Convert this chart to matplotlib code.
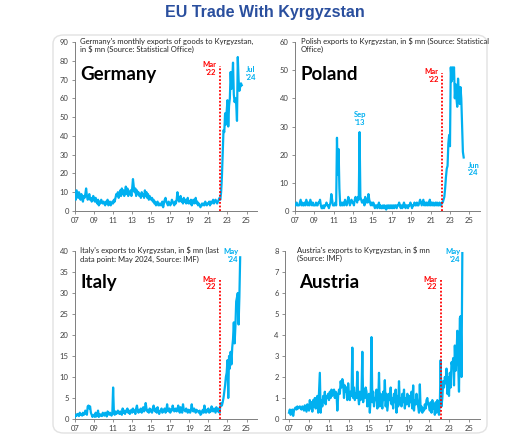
import numpy as np
import matplotlib
matplotlib.use("Agg")
import matplotlib.pyplot as plt
from matplotlib.patches import FancyBboxPatch

# monthly values from Jan 2007, in $ mn
germany = [
    10, 6, 11, 9, 7, 10, 8, 6, 9, 7, 5, 8,
    7, 9, 12, 8, 6, 7, 9, 6, 7, 5, 6, 8,
    6, 5, 7, 5, 4, 6, 3, 5, 4, 6, 5, 4,
    5, 4, 3, 5, 4, 6, 3, 4, 5, 3, 4, 5,
    4, 6, 5, 7, 9, 8, 10, 7, 9, 11, 8, 12,
    9, 11, 8, 10, 13, 9, 12, 8, 10, 9, 11, 8,
    12, 17, 13, 10, 12, 8, 11, 9, 10, 8, 9, 7,
    10, 8, 9, 7, 11, 8, 10, 7, 9, 6, 8, 7,
    6, 7, 5, 6, 4, 5, 3, 4, 5, 3, 4, 3,
    4, 3, 5, 2, 4, 6, 7, 5, 4, 3, 5, 4,
    3, 4, 6, 5, 4, 3, 5, 4, 6, 10, 7, 5,
    6, 8, 5, 6, 4, 7, 5, 6, 4, 5, 7, 4,
    5, 4, 6, 3, 5, 6, 4, 5, 7, 4, 5, 3,
    4, 3, 2, 3, 4, 3, 4, 3, 5, 4, 3, 4,
    4, 5, 3, 5, 4, 5, 6, 4, 5, 6, 5, 4,
    5, 6, 7, 6, 10, 18, 30, 43, 42, 52, 46, 53,
    59, 45, 56, 60, 74, 65, 70, 79, 62, 58, 60, 57,
    48, 82, 70, 64, 66, 68, 67,
]
poland = [
    2, 2, 3, 2, 2, 2, 3, 4, 2, 3, 2, 2,
    3, 2, 4, 3, 2, 3, 2, 4, 3, 2, 3, 2,
    2, 2, 3, 2, 2, 3, 3, 4, 2, 1, 1, 2,
    1, 2, 2, 3, 2, 2, 1, 2, 3, 6, 4, 2,
    2, 2, 3, 2, 26, 13, 22, 8, 2, 2, 3, 2,
    3, 2, 4, 3, 2, 3, 5, 4, 2, 3, 4, 3,
    3, 2, 4, 5, 4, 3, 5, 4, 28, 5, 4, 3,
    3, 4, 2, 5, 3, 4, 3, 6, 4, 3, 2, 3,
    2, 3, 2, 1, 2, 2, 1, 2, 3, 1, 2, 1,
    1, 2, 1, 2, 1, 0.5, 2, 1, 2, 1, 2, 1,
    2, 1, 2, 1, 2, 2, 1, 2, 2, 3, 2, 1,
    2, 1, 2, 3, 2, 1, 2, 2, 1, 2, 2, 3,
    2, 1, 2, 2, 3, 2, 2, 3, 2, 2, 3, 4,
    3, 2, 3, 4, 2, 3, 2, 3, 2, 3, 2, 4,
    2, 3, 2, 3, 2, 2, 3, 2, 3, 2, 2, 3,
    2, 2, 3, 3, 4, 5, 8, 12, 15, 16, 24, 27,
    23, 51, 46, 51, 47, 51, 40, 45, 40, 37, 47, 42,
    38, 44, 40, 30, 21, 19,
]
italy = [
    0.5, 1, 0.8, 1.2, 1, 0.7, 1.5, 1, 1.2, 0.8, 1.5, 1,
    1.2, 2, 1.5, 1, 3, 3.2, 2.5, 3, 1.5, 1, 0.5, 0.8,
    1, 0.5, 1.5, 0.6, 1, 2, 0.5, 1.2, 0.8, 1, 0.7, 1.5,
    1, 0.8, 1.5, 1.2, 0.6, 1.8, 1.5, 1, 1.5, 1.2, 0.8, 1.3,
    7.5, 1.5, 1, 1.8, 1.2, 1.5, 2, 1.5, 1.2, 1.8, 1.5, 1,
    2.5, 1.5, 2, 1.2, 2, 1.8, 2.5, 1.5, 2, 1.2, 1.8, 2.2,
    1.5, 2.5, 1.8, 2, 1.2, 2.5, 3.2, 2, 1.5, 2.2, 1.8, 2.5,
    1.5, 2, 2.8, 1.8, 2.2, 3.8, 2.5, 1.8, 2, 1.5, 2.5, 1.8,
    2.2, 1.5, 2.5, 3.2, 2, 1.8, 2.5, 1.5, 2.8, 2, 1.2, 1.8,
    2, 2.5, 1.5, 1.8, 2.2, 2.5, 1.5, 2, 3.5, 2, 1.8, 2.5,
    1.5, 2.2, 2, 3.2, 2.5, 1.8, 2, 2.5, 1.8, 2.2, 3.2, 2,
    1.5, 2.8, 2, 1.5, 3.5, 2.2, 2, 1.8, 2.5, 2, 1.5, 2.2,
    2, 1.5, 2.2, 3.5, 2, 1.8, 2.5, 2, 1.5, 2.2, 2, 1.8,
    1.5, 2, 1, 1.2, 1.8, 2.2, 1.5, 3.2, 2, 1.5, 2.2, 1.8,
    2.5, 1.5, 2, 1.8, 3, 2.2, 1.8, 2.5, 2, 1.5, 2.8, 2,
    1.8, 2.5, 1.5, 3, 3.8, 3.2, 4, 5, 6.5, 8, 10, 11,
    14, 5, 15, 12, 16, 13, 17, 19, 23, 18, 22, 28,
    29, 30, 22.5, 29, 38.5,
]
austria = [
    0.3, 0.45, 0.2, 0.4, 0.45, 0.15, 0.4, 0.5, 0.55, 0.45, 0.6, 0.5,
    0.55, 0.6, 0.5, 0.45, 0.6, 0.55, 0.4, 0.65, 0.5, 0.35, 0.7, 0.6,
    0.4, 0.9, 0.5, 0.8, 0.35, 0.9, 0.6, 1.0, 0.5, 0.95, 1.1, 0.3,
    1.2, 2.2, 0.3, 0.9, 0.6, 1.1, 0.8, 1.3, 0.7, 1.1, 1.0, 1.2,
    0.9, 1.3, 1.0, 1.4, 1.1, 1.2, 1.4, 1.0, 1.3, 1.2, 0.4, 1.1,
    1.4, 1.2, 1.8, 1.5, 1.9, 1.7, 1.0, 1.6, 1.3, 1.5, 0.9, 1.7,
    1.2, 0.9, 1.3, 1.1, 3.4, 1.0, 1.5, 0.9, 1.2, 1.0, 2.25, 1.1,
    0.7, 1.3, 0.9, 1.2, 3.2, 0.8, 1.4, 1.0, 1.5, 1.3, 0.6, 1.1,
    1.2, 0.3, 1.0, 3.9, 0.8, 1.3, 0.6, 1.0, 0.9, 1.4, 0.5, 0.7,
    2.2, 0.6, 1.2, 0.8, 0.5, 1.3, 0.9, 1.85, 0.6, 1.2, 0.4, 0.8,
    1.2, 0.9, 1.5, 0.7, 1.0, 0.5, 1.2, 0.8, 1.4, 0.3, 1.1, 0.6,
    1.8, 0.7, 1.0, 0.6, 1.2, 0.8, 1.4, 0.5, 1.0, 0.7, 1.2, 0.9,
    0.6, 1.1, 0.8, 1.3, 0.5, 1.6, 0.4, 0.9, 0.7, 1.2, 0.8, 0.6,
    0.3, 1.65, 0.4, 0.6, 0.3, 0.5, 0.4, 0.7, 0.5, 0.9, 1.0, 0.7,
    0.6, 0.4, 0.8, 0.3, 0.9, 0.5, 0.7, 0.2, 0.8, 0.3, 0.9, 0.5,
    0.2, 0.7, 2.8, 0.6, 1.0, 1.8, 1.5, 2.0, 1.7, 2.4, 1.2, 2.0,
    1.1, 2.2, 1.5, 2.7, 2.5, 2.9, 1.6, 3.5, 2.3, 3.0, 4.2, 2.6,
    1.3, 4.8, 4.9, 2.0, 7.9,
]

xtick_years = [2007, 2009, 2011, 2013, 2015, 2017, 2019, 2021, 2023, 2025]
xtick_labels = ["07", "09", "11", "13", "15", "17", "19", "21", "23", "25"]
mar22 = 2022 + 2 / 12

blue = "#00b0f0"
red = "#ff0000"
txtfont = ["Lato", "DejaVu Sans"]

fig = plt.figure(figsize=(5.30, 4.42), dpi=100)
fig.patch.set_facecolor("white")

# rounded panel background
box = FancyBboxPatch((53 / 530, 1 - 433 / 442), 434 / 530, 398 / 442,
                     boxstyle="round,pad=0,rounding_size=0.02",
                     transform=fig.transFigure, facecolor="none",
                     edgecolor="#e2e2e2", linewidth=1.0, zorder=-5)
fig.patches.append(box)

fig.text(0.5, 1 - 13 / 442, "EU Trade With Kyrgyzstan", ha="center", va="center",
         fontsize=11.5, fontweight="bold", color="#2a4f9e", family="Liberation Sans")

panels = [
    # name, data, rect(px: left, top, right, bottom), ymax, ystep, xlim start, subtitle, last label, mar line top
    ("Germany", germany, (75, 42, 257, 211), 90, 10, 2007,
     "Germany's monthly exports of goods to Kyrgyzstan,\nin $ mn (Source: Statistical Office)",
     "Jul\n'24", 77),
    ("Poland", poland, (295, 42, 480, 211), 60, 10, 2007,
     "Polish exports to Kyrgyzstan, in $ mn (Source: Statistical\nOffice)",
     "Jun\n'24", 49),
    ("Italy", italy, (75, 251, 257, 419), 40, 5, 2007,
     "Italy's exports to Kyrgyzstan, in $ mn (last\ndata point: May 2024, Source: IMF)",
     "May\n'24", 33),
    ("Austria", austria, (285, 251, 480, 419), 8, 1, 2006.6,
     "Austria's exports to Kyrgyzstan, in $ mn\n(Source: IMF)",
     "May\n'24", 6.6),
]

for name, vals, (l, t, r, b), ymax, ystep, x0, sub, lastlab, mtop in panels:
    ax = fig.add_axes([l / 530, 1 - b / 442, (r - l) / 530, (b - t) / 442])
    x = 2007 + np.arange(len(vals)) / 12
    ax.plot(x, vals, color=blue, lw=1.6, solid_joinstyle="round", zorder=3)
    ax.vlines(mar22, 0, mtop, colors=red, linestyles=(0, (1, 1)), lw=1.3, zorder=4)
    ax.set_xlim(x0, 2026.1)
    ax.set_ylim(0, ymax)
    ax.set_xticks(xtick_years)
    ax.set_xticklabels(xtick_labels)
    ax.set_yticks(np.arange(0, ymax + ystep / 2, ystep))
    for s in ["top", "right"]:
        ax.spines[s].set_visible(False)
    for s in ["left", "bottom"]:
        ax.spines[s].set_color("#7f7f7f")
        ax.spines[s].set_linewidth(0.7)
    ax.tick_params(labelsize=5.5, colors="#404040", length=2.5, width=0.6, pad=2)
    ax.tick_params(axis="both", color="#7f7f7f")
    ax.patch.set_visible(False)
    for lab in ax.get_xticklabels() + ax.get_yticklabels():
        lab.set_family(txtfont)

    # subtitle and country name
    ax.text(0.03 if name != "Austria" else 0.06, 1.025, sub, transform=ax.transAxes,
            ha="left", va="top", fontsize=5.5, color="#262626", family=txtfont,
            linespacing=1.15)
    ax.text(0.03 if name != "Austria" else 0.07, 0.81, name, transform=ax.transAxes,
            ha="left", va="center", fontsize=13.5, fontweight="bold", color="black",
            family=txtfont)

    # Mar '22 marker label
    ax.text(mar22 - 0.35, mtop * 1.035, "Mar\n'22", ha="right", va="top",
            fontsize=5.5, fontweight="bold", color=red, family=txtfont, linespacing=1.1)

    # latest point label
    xl = x[-1]
    if name == "Germany":
        ax.text(xl + 0.4, 77, lastlab, ha="left", va="top", fontsize=5.5,
                fontweight="bold", color=blue, family=txtfont, linespacing=1.1)
    elif name == "Poland":
        ax.text(xl + 0.4, 17.5, lastlab, ha="left", va="top", fontsize=5.5,
                fontweight="bold", color=blue, family=txtfont, linespacing=1.1)
        ax.text(2013.7, 35.5, "Sep\n'13", ha="center", va="top", fontsize=5.5,
                fontweight="bold", color=blue, family=txtfont, linespacing=1.1)
    else:
        ax.text(xl - 0.2, ymax * 1.015, lastlab, ha="right", va="top", fontsize=5.5,
                fontweight="bold", color=blue, family=txtfont, linespacing=1.1)

fig.savefig("out.png", dpi=100, facecolor="white")
